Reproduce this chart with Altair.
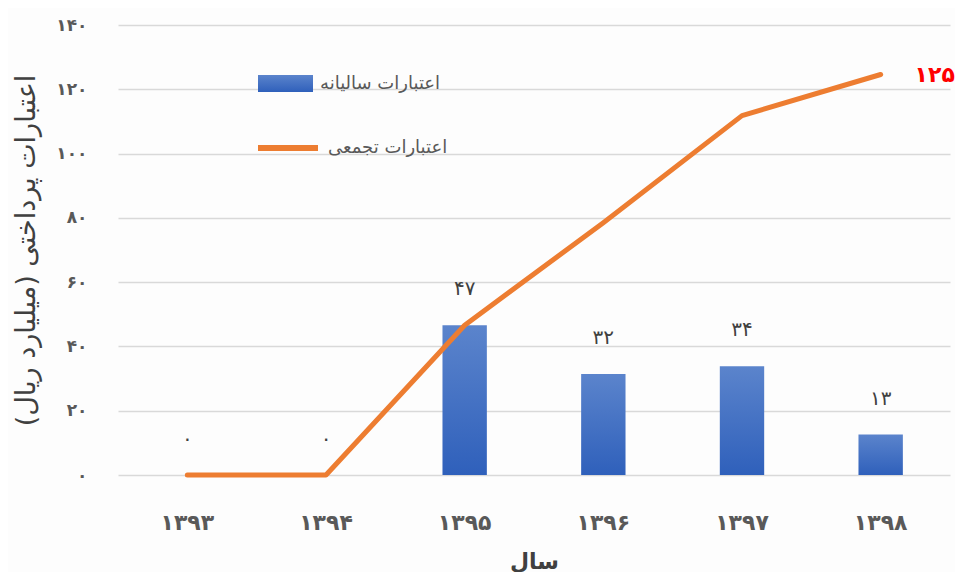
import json
import altair as alt
import pandas as pd

# ---- data ----
years = ["۱۳۹۳", "۱۳۹۴", "۱۳۹۵", "۱۳۹۶", "۱۳۹۷", "۱۳۹۸"]
annual = [0, 0, 46.6, 31.4, 33.8, 12.6]
cumulative = [0, 0, 46.6, 78.5, 111.8, 124.6]
annual_labels = ["۰", "۰", "۴۷", "۳۲", "۳۴", "۱۳"]
total_label = "۱۲۵"
y_ticks = [0, 20, 40, 60, 80, 100, 120, 140]
y_tick_labels = ["۰", "۲۰", "۴۰", "۶۰", "۸۰", "۱۰۰", "۱۲۰", "۱۴۰"]
series_bar = "اعتبارات سالیانه"
series_line = "اعتبارات تجمعی"
x_title = "سال"
y_title = "اعتبارات پرداختی (میلیارد ریال)\u200f"

df = pd.DataFrame({"year": years, "annual": annual, "cum": cumulative, "lab": annual_labels,
                   "s1": [series_bar] * len(years), "s2": [series_line] * len(years)})
last = pd.DataFrame({"year": [years[-1]], "cum": [cumulative[-1]], "lab": [total_label]})

FONT = "DejaVu Sans"
label_expr = json.dumps(y_tick_labels, ensure_ascii=False) + "[round(datum.value/20)]"

x_scale = alt.Scale(paddingInner=0.68, paddingOuter=0.34)
y_scale = alt.Scale(domain=[0, 140])

x_axis = alt.Axis(title=x_title, titleFontSize=22, titleFontWeight="bold", titleColor="#404040",
                  titleFont=FONT, labelFont=FONT, labelFontSize=22, labelFontWeight="bold",
                  labelColor="#595959", labelAngle=0, labelPadding=37, titlePadding=18,
                  ticks=False, domain=False, grid=False)
y_axis = alt.Axis(values=y_ticks, labelExpr=label_expr, title=y_title, titleFont=FONT,
                  titleFontSize=27, titleFontWeight="normal", titleColor="#404040",
                  labelFont=FONT, labelFontSize=17, labelFontWeight="bold", labelColor="#595959",
                  labelPadding=31, titlePadding=15, ticks=False, domain=False,
                  gridColor="#d9d9d9", gridWidth=1.5)

X = alt.X("year:N", sort=years, scale=x_scale, axis=x_axis)

gradient = alt.LinearGradient(
    gradient="linear",
    stops=[alt.GradientStop(color="#5b84cc", offset=0), alt.GradientStop(color="#2f60bb", offset=1)],
    x1=0, x2=0, y1=0, y2=1,
)

base = alt.Chart(df)

bars = base.mark_bar(fill=gradient).encode(
    x=X,
    y=alt.Y("annual:Q", scale=y_scale, axis=y_axis),
    opacity=alt.Opacity("s1:N", scale=alt.Scale(range=[1]),
                        legend=alt.Legend(orient="none", legendX=140, legendY=31, title=None,
                                          symbolType="M-1,-0.31L1,-0.31L1,0.31L-1,0.31Z",
                                          symbolSize=3025, symbolFillColor="#4472C4",
                                          symbolStrokeWidth=0, symbolOpacity=1,
                                          labelFont=FONT, labelFontSize=18,
                                          labelColor="#595959", labelOffset=7)),
)

bar_text = base.mark_text(font=FONT, fontSize=20, color="#404040", dy=-36).encode(
    x=X,
    y=alt.Y("annual:Q", scale=y_scale, axis=y_axis),
    text="lab:N",
)

line = base.mark_line(strokeWidth=5, strokeCap="round", strokeJoin="round").encode(
    x=X,
    y=alt.Y("cum:Q", scale=y_scale, axis=y_axis),
    color=alt.Color("s2:N", scale=alt.Scale(range=["#ED7D31"]),
                    legend=alt.Legend(orient="none", legendX=137, legendY=90, title=None,
                                      symbolType="stroke", symbolSize=3600,
                                      symbolStrokeWidth=6, labelFont=FONT, labelFontSize=18,
                                      labelColor="#595959", labelOffset=7)),
)

total_text = alt.Chart(last).mark_text(font=FONT, fontSize=22, fontWeight="bold", color="#FF0000",
                                       dx=54).encode(
    x=X,
    y=alt.Y("cum:Q", scale=y_scale, axis=y_axis),
    text="lab:N",
)

chart = alt.layer(bars, bar_text, line, total_text).properties(
    width=832, height=450, background="#fdfdfd",
    padding={"left": 4, "top": 8, "right": 0, "bottom": 0},
).configure_view(stroke=None)

chart.save("out.html", embed_options={"renderer": "svg", "actions": False})
